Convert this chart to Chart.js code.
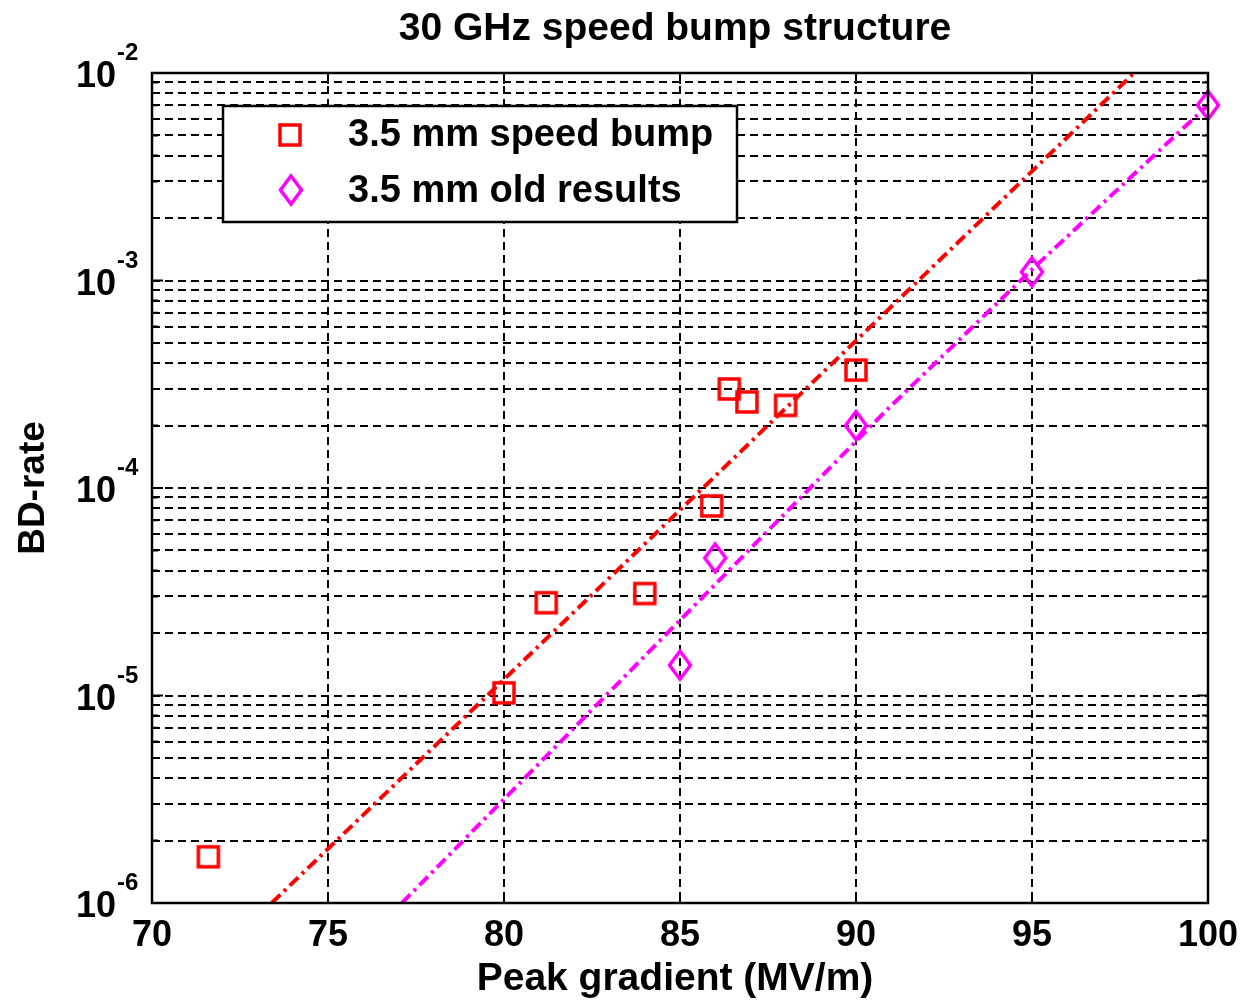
<!DOCTYPE html>
<html lang="en">
<head>
<meta charset="UTF-8">
<title>30 GHz speed bump structure</title>
<script src="https://cdn.jsdelivr.net/npm/chart.js"></script>
<style>
    html, body {
        margin: 0;
        padding: 0;
        background: #fff;
        overflow: hidden;
    }

    .plot {
        position: relative;
        width: 1243px;
        height: 1000px;
    }
</style>
</head>
<body>
<div class="plot"><canvas id="bdChart"></canvas></div>

<script>
    // Measured breakdown rates
    const gradSpeedBump = [71.6, 80, 81.2, 84, 85.9, 86.4, 86.9, 88, 90];
    const bdrSpeedBump = [1.67e-6, 1.03e-5, 2.8e-5, 3.1e-5, 8.2e-5, 3.0e-4, 2.6e-4, 2.5e-4, 3.7e-4];
    const gradOld = [85, 86, 90, 95, 100];
    const bdrOld = [1.4e-5, 4.6e-5, 2.0e-4, 1.1e-3, 7.0e-3];

    // Fitted trend lines
    const fitSpeedBumpGrad = [73.4, 97.9];
    const fitSpeedBumpBdr = [1e-6, 1e-2];
    const fitOldGrad = [77.1, 90.9, 95, 100];
    const fitOldBdr = [1e-6, 2.4e-4, 1.13e-3, 7.0e-3];

    const seriesNames = ['3.5 mm speed bump', '3.5 mm old results'];
    const xTicks = [70, 75, 80, 85, 90, 95, 100];
    const yDecades = [-6, -5, -4, -3, -2];

    const FONT = 'Liberation Sans, Arial, Helvetica, sans-serif';
    const RED = '#ff0000';
    const MAGENTA = '#ff00ff';

    function squareMarker(color) {
        const c = document.createElement('canvas');
        c.width = 26; c.height = 26;
        const g = c.getContext('2d');
        g.strokeStyle = color;
        g.lineWidth = 3.5;
        g.strokeRect(3, 3, 20, 20);
        return c;
    }

    function diamondMarker(color) {
        const c = document.createElement('canvas');
        c.width = 28; c.height = 34;
        const g = c.getContext('2d');
        g.strokeStyle = color;
        g.lineWidth = 3.5;
        g.beginPath();
        g.moveTo(14, 3);
        g.lineTo(24.5, 17);
        g.lineTo(14, 31);
        g.lineTo(3.5, 17);
        g.closePath();
        g.stroke();
        return c;
    }

    const squareRed = squareMarker(RED);
    const diamondMagenta = diamondMarker(MAGENTA);

    const toPoints = (xs, ys) => xs.map((x, i) => ({ x: x, y: ys[i] }));

    // Box, inside ticks, labels and legend drawn in the old plotting style
    const frame = {
        id: 'frame',
        afterDraw(chart) {
            const ctx = chart.ctx;
            const area = chart.chartArea;
            const xs = chart.scales.x;
            const ys = chart.scales.y;

            ctx.save();
            ctx.strokeStyle = '#000';
            ctx.lineWidth = 2.5;
            ctx.strokeRect(area.left, area.top, area.right - area.left, area.bottom - area.top);

            // inside tick marks
            ctx.lineWidth = 2;
            ctx.beginPath();
            xTicks.forEach(v => {
                const px = xs.getPixelForValue(v);
                ctx.moveTo(px, area.bottom); ctx.lineTo(px, area.bottom - 11);
                ctx.moveTo(px, area.top); ctx.lineTo(px, area.top + 11);
            });
            ys.ticks.forEach(t => {
                const py = ys.getPixelForValue(t.value);
                const len = Math.abs(Math.log10(t.value) - Math.round(Math.log10(t.value))) < 1e-6 ? 11 : 6;
                ctx.moveTo(area.left, py); ctx.lineTo(area.left + len, py);
                ctx.moveTo(area.right, py); ctx.lineTo(area.right - len, py);
            });
            ctx.stroke();

            // tick labels
            ctx.fillStyle = '#000';
            ctx.font = 'bold 36px ' + FONT;
            ctx.textAlign = 'center';
            ctx.textBaseline = 'alphabetic';
            xTicks.forEach(v => ctx.fillText(String(v), xs.getPixelForValue(v), 946));

            yDecades.forEach(e => {
                const py = ys.getPixelForValue(Math.pow(10, e));
                ctx.font = 'bold 36px ' + FONT;
                ctx.textAlign = 'right';
                ctx.fillText('10', 116, py + 14);
                ctx.font = 'bold 24px ' + FONT;
                ctx.textAlign = 'left';
                ctx.fillText(String(e), 117, py - 13);
            });

            // titles
            ctx.font = 'bold 39px ' + FONT;
            ctx.textAlign = 'center';
            ctx.fillText('30 GHz speed bump structure', 675, 40);
            ctx.fillText('Peak gradient (MV/m)', 675, 990);
            ctx.save();
            ctx.translate(44, (area.top + area.bottom) / 2);
            ctx.rotate(-Math.PI / 2);
            ctx.font = 'bold 37px ' + FONT;
            ctx.fillText('BD-rate', 0, 0);
            ctx.restore();

            // legend
            const lx = 223, ly = 106, lw = 514, lh = 116;
            ctx.fillStyle = '#fff';
            ctx.fillRect(lx, ly, lw, lh);
            ctx.strokeStyle = '#000';
            ctx.lineWidth = 2.5;
            ctx.strokeRect(lx, ly, lw, lh);
            ctx.drawImage(squareRed, 290 - squareRed.width / 2, 135 - squareRed.height / 2);
            ctx.drawImage(diamondMagenta, 291 - diamondMagenta.width / 2, 190 - diamondMagenta.height / 2);
            ctx.fillStyle = '#000';
            ctx.font = 'bold 38px ' + FONT;
            ctx.textAlign = 'left';
            ctx.textBaseline = 'middle';
            ctx.fillText(seriesNames[0], 348, 136);
            ctx.fillText(seriesNames[1], 348, 192);
            ctx.restore();
        }
    };

    const ctx = document.getElementById('bdChart').getContext('2d');
    const chart = new Chart(ctx, {
        type: 'scatter',
        data: {
            datasets: [
                {
                    label: 'speed bump fit',
                    data: toPoints(fitSpeedBumpGrad, fitSpeedBumpBdr),
                    showLine: true,
                    borderColor: RED,
                    borderWidth: 4,
                    borderDash: [12, 5, 3, 5],
                    pointRadius: 0,
                    tension: 0,
                    fill: false
                },
                {
                    label: 'old results fit',
                    data: toPoints(fitOldGrad, fitOldBdr),
                    showLine: true,
                    borderColor: MAGENTA,
                    borderWidth: 4,
                    borderDash: [12, 5, 3, 5],
                    pointRadius: 0,
                    tension: 0,
                    fill: false
                },
                {
                    label: seriesNames[0],
                    data: toPoints(gradSpeedBump, bdrSpeedBump),
                    showLine: false,
                    pointStyle: squareRed,
                    pointRadius: 12,
                    clip: false
                },
                {
                    label: seriesNames[1],
                    data: toPoints(gradOld, bdrOld),
                    showLine: false,
                    pointStyle: diamondMagenta,
                    pointRadius: 12,
                    clip: false
                }
            ]
        },
        options: {
            responsive: true,
            maintainAspectRatio: false,
            animation: false,
            events: [],
            layout: { padding: { top: 73, right: 35, left: 0, bottom: 0 } },
            plugins: {
                legend: { display: false },
                tooltip: { enabled: false }
            },
            scales: {
                x: {
                    type: 'linear',
                    min: 70,
                    max: 100,
                    afterBuildTicks: scale => {
                        scale.ticks = xTicks.map(v => ({ value: v }));
                    },
                    ticks: { display: false },
                    grid: { color: '#000', lineWidth: 2, drawTicks: false },
                    border: { display: false, dash: [8, 5] },
                    afterFit: scale => { scale.height = 97; }
                },
                y: {
                    type: 'logarithmic',
                    min: 1e-6,
                    max: 1e-2,
                    afterBuildTicks: scale => {
                        const t = [];
                        for (let e = -6; e < -2; e++) {
                            for (let m = 1; m < 10; m++) t.push({ value: Number(m + 'e' + e) });
                        }
                        t.push({ value: 1e-2 });
                        scale.ticks = t;
                    },
                    ticks: { display: false },
                    grid: { color: '#000', lineWidth: 2, drawTicks: false },
                    border: { display: false, dash: [8, 5] },
                    afterFit: scale => { scale.width = 152; }
                }
            }
        },
        plugins: [frame]
    });
</script>
</body>
</html>
